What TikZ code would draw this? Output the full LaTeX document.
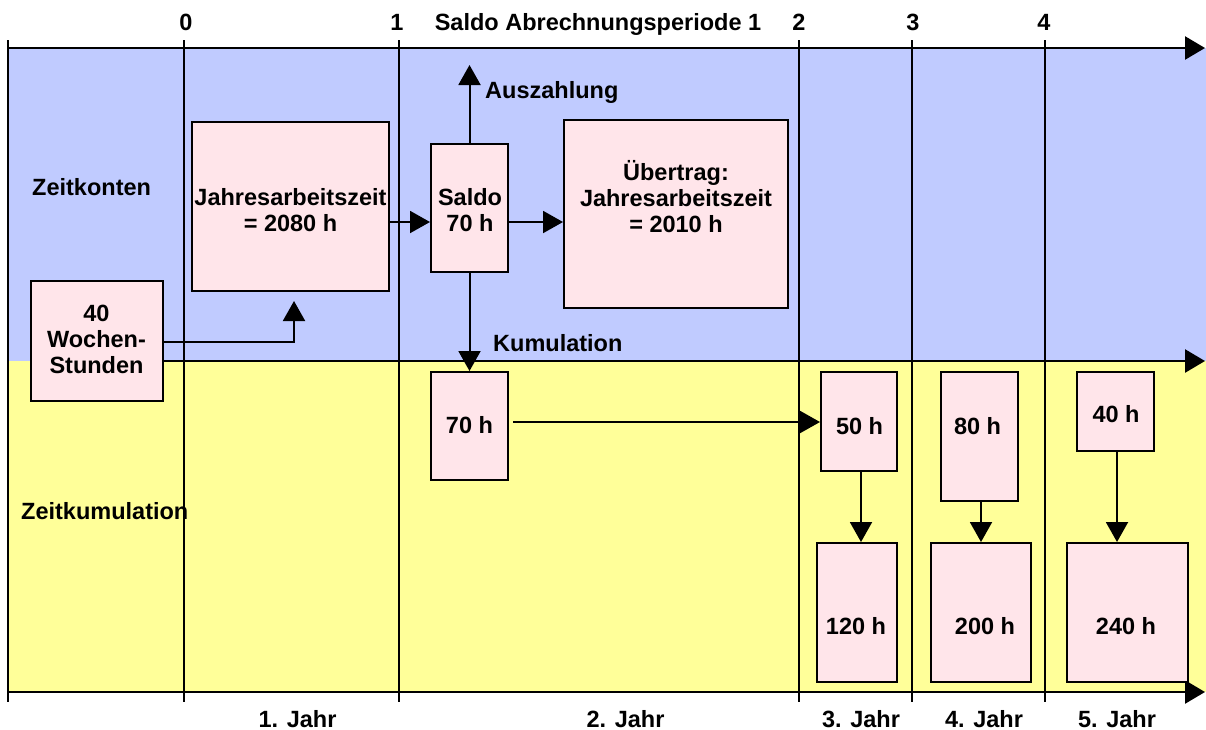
\documentclass[tikz,border=0pt]{standalone}
\usepackage{fontspec}
\setmainfont{Liberation Sans}
\usetikzlibrary{arrows.meta,fit}
\definecolor{zkblue}{RGB}{192,203,255}
\definecolor{zkyellow}{RGB}{255,255,153}
\definecolor{zkpink}{RGB}{255,229,234}
\tikzset{
  box/.style={draw=black, line width=2pt, fill=zkpink, inner sep=0pt},
  txt/.style={font=\bfseries\fontsize{23.5}{26}\selectfont, inner sep=0pt},
  mtxt/.style={txt, align=center},
  arr/.style={line width=2pt, -{Triangle[length=20pt,width=22pt]}},
  axisline/.style={line width=2.5pt, -{Triangle[length=20pt,width=23pt]}},
  vline/.style={line width=2pt},
}
\begin{document}
\begin{tikzpicture}[x=1pt,y=-1pt]
\useasboundingbox (0,0) rectangle (1206,729);
% backgrounds
\fill[zkblue] (8,48) rectangle (1206,361);
\fill[zkyellow] (8,361) rectangle (1206,692);
% vertical lines
\foreach \xx in {8,184,399,799,912,1045}
  \draw[vline] (\xx,40) -- (\xx,702);
% coordinates for axis ends
\coordinate (topS) at (8,48);
\coordinate (topE) at (1205,48);
\coordinate (botS) at (8,692);
\coordinate (botE) at (1205,692);
\coordinate (midE) at (1205,361);
\draw[axisline] (topS) -- (topE);
\draw[axisline] (botS) -- (botE);
% boxes
\node[box, fit={(31,281) (163,401)}] (woc) {};
\node[box, fit={(192,122) (389,291)}] (jah) {};
\node[box, fit={(431,144) (508,272)}] (sal) {};
\node[box, fit={(564,120) (788,308)}] (ueb) {};
\node[box, fit={(431,372) (508,480)}] (k70) {};
\node[box, fit={(821,372) (897,471)}] (b50) {};
\node[box, fit={(817,543) (897,682)}] (b120) {};
\node[box, fit={(941,372) (1018,501)}] (b80) {};
\node[box, fit={(931,543) (1031,682)}] (b200) {};
\node[box, fit={(1077,372) (1154,451)}] (b40) {};
\node[box, fit={(1067,543) (1188,682)}] (b240) {};
% middle axis
\draw[axisline] (woc.east |- 0,361) -- (midE);
% connectors
\coordinate (wtip) at (294,301);
\coordinate (atip) at (469.5,65);
\draw[arr] (woc.east |- 0,342) -| (wtip);
\draw[arr] (jah.east |- 0,222) -- (sal.west |- 0,222);
\draw[arr] (sal.east |- 0,222) -- (ueb.west |- 0,222);
\draw[arr] (sal.north) -- (atip);
\draw[arr] (sal.south) -- (k70.north);
\draw[arr] ([xshift=4pt]k70.east |- 0,422) -- (b50.west |- 0,422);
\draw[arr] (b50.south -| 861,0) -- (b120.north -| 861,0);
\draw[arr] (b80.south -| 981,0) -- (b200.north -| 981,0);
\draw[arr] (b40.south -| 1117,0) -- (b240.north -| 1117,0);
% box texts
\node[mtxt] (twoc) at (96.5,339) {40\\Wochen-\\Stunden};
\node[mtxt] (tjah) at (290.5,210.5) {Jahresarbeitszeit\\= 2080 h};
\node[mtxt] (tsal) at (470,210.5) {Saldo\\70 h};
\node[mtxt] (tueb) at (676,197) {Übertrag:\\Jahresarbeitszeit\\= 2010 h};
\node[txt, anchor=base] (tk70) at (469.5,433) {70 h};
\node[txt, anchor=base] (t50) at (859.5,434) {50 h};
\node[txt, anchor=base] (t120) at (856,634) {120 h};
\node[txt, anchor=base] (t80) at (977.5,434) {80 h};
\node[txt, anchor=base] (t200) at (985,634) {200 h};
\node[txt, anchor=base] (t40) at (1116,422) {40 h};
\node[txt, anchor=base] (t240) at (1126,634) {240 h};
% labels
\node[txt, anchor=base west] (lzk) at (32,195) {Zeitkonten};
\node[txt, anchor=base west] (lzkum) at (21,519.5) {Zeitkumulation};
\node[txt, anchor=base west] (lausz) at (485,98) {Auszahlung};
\node[txt, anchor=base west] (lkum) at (493,351) {Kumulation};
\node[txt, anchor=base] (n0) at (186,30.5) {0};
\node[txt, anchor=base] (n1) at (397,30.5) {1};
\node[txt, anchor=base] (nsaldo) at (598,30.5) {Saldo Abrechnungsperiode 1};
\node[txt, anchor=base] (n2) at (799,30.5) {2};
\node[txt, anchor=base] (n3) at (913,30.5) {3};
\node[txt, anchor=base] (n4) at (1044,30.5) {4};
\node[txt, anchor=base] (j1) at (297.5,727) {1. Jahr};
\node[txt, anchor=base] (j2) at (625.5,727) {2. Jahr};
\node[txt, anchor=base] (j3) at (861,727) {3. Jahr};
\node[txt, anchor=base] (j4) at (984,727) {4. Jahr};
\node[txt, anchor=base] (j5) at (1117,727) {5. Jahr};
\end{tikzpicture}
\end{document}
